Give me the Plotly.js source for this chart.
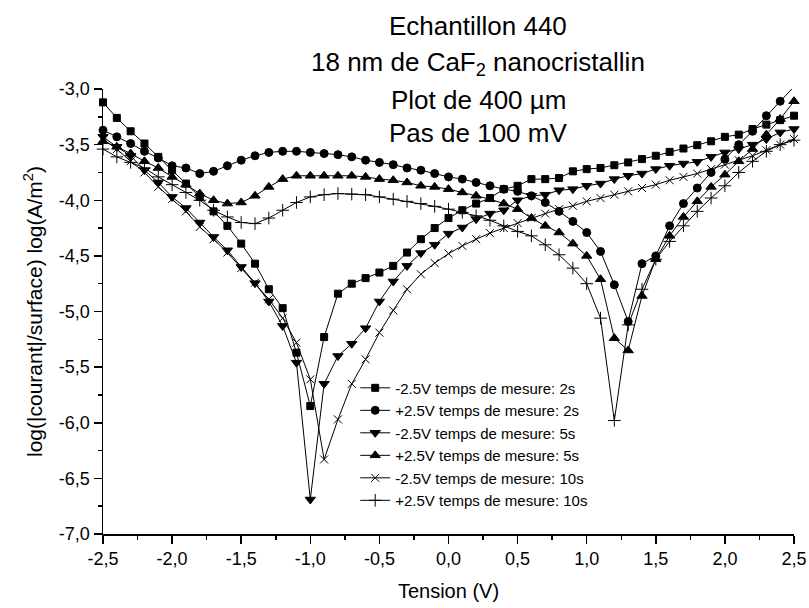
<!DOCTYPE html>
<html>
<head>
<meta charset="utf-8">
<script src="https://cdn.plot.ly/plotly-3.0.1.min.js"></script>
<style>html,body{margin:0;padding:0;background:#fff;}#chart{width:809px;height:608px;}</style>
</head>
<body>
<div id="chart"></div>
<script>
// Tension (V), pas de 100 mV
const tension = [-2.5,-2.4,-2.3,-2.2,-2.1,-2.0,-1.9,-1.8,-1.7,-1.6,-1.5,-1.4,-1.3,-1.2,-1.1,-1.0,-0.9,-0.8,-0.7,-0.6,-0.5,-0.4,-0.3,-0.2,-0.1,0.0,0.1,0.2,0.3,0.4,0.5,0.6,0.7,0.8,0.9,1.0,1.1,1.2,1.3,1.4,1.5,1.6,1.7,1.8,1.9,2.0,2.1,2.2,2.3,2.4,2.5];

const moins2s = [-3.12,-3.26,-3.38,-3.49,-3.61,-3.73,-3.85,-3.97,-4.10,-4.23,-4.39,-4.57,-4.80,-4.97,-5.37,-5.85,-5.23,-4.84,-4.75,-4.70,-4.65,-4.59,-4.47,-4.35,-4.25,-4.16,-4.09,-4.03,-3.98,-3.90,-3.87,-3.81,-3.81,-3.80,-3.74,-3.72,-3.71,-3.685,-3.66,-3.63,-3.60,-3.565,-3.535,-3.505,-3.47,-3.43,-3.41,-3.36,-3.32,-3.28,-3.24];

const plus2s = [-3.37,-3.43,-3.49,-3.56,-3.62,-3.69,-3.71,-3.76,-3.74,-3.69,-3.64,-3.60,-3.57,-3.56,-3.56,-3.57,-3.58,-3.59,-3.61,-3.64,-3.66,-3.68,-3.71,-3.73,-3.76,-3.79,-3.81,-3.84,-3.87,-3.90,-3.92,-3.96,-4.02,-4.10,-4.19,-4.29,-4.46,-4.76,-5.09,-4.57,-4.50,-4.23,-4.03,-3.89,-3.75,-3.63,-3.50,-3.38,-3.24,-3.11,-2.98];

const moins5s = [-3.43,-3.52,-3.60,-3.73,-3.84,-3.97,-4.07,-4.20,-4.33,-4.45,-4.60,-4.745,-4.91,-5.13,-5.46,-6.69,-5.65,-5.40,-5.29,-5.15,-4.91,-4.73,-4.59,-4.475,-4.40,-4.30,-4.245,-4.17,-4.12,-4.09,-4.00,-3.96,-3.95,-3.91,-3.90,-3.87,-3.85,-3.81,-3.78,-3.76,-3.72,-3.69,-3.67,-3.655,-3.61,-3.57,-3.54,-3.50,-3.45,-3.39,-3.36];

const plus5s = [-3.47,-3.52,-3.58,-3.65,-3.71,-3.79,-3.86,-3.94,-4.00,-4.03,-4.02,-3.96,-3.88,-3.81,-3.78,-3.78,-3.78,-3.78,-3.78,-3.79,-3.81,-3.82,-3.84,-3.87,-3.88,-3.90,-3.93,-3.96,-3.99,-4.03,-4.08,-4.16,-4.23,-4.29,-4.39,-4.50,-4.71,-5.24,-5.35,-4.86,-4.53,-4.32,-4.15,-4.01,-3.88,-3.77,-3.65,-3.54,-3.41,-3.27,-3.11];

const moins10s = [-3.45,-3.54,-3.65,-3.75,-3.88,-3.99,-4.10,-4.24,-4.35,-4.47,-4.61,-4.74,-4.89,-5.06,-5.28,-5.61,-6.33,-5.97,-5.65,-5.43,-5.19,-4.99,-4.80,-4.665,-4.565,-4.48,-4.41,-4.35,-4.295,-4.25,-4.205,-4.16,-4.12,-4.08,-4.05,-4.01,-3.98,-3.95,-3.92,-3.89,-3.86,-3.82,-3.79,-3.76,-3.72,-3.68,-3.64,-3.60,-3.55,-3.50,-3.45];

const plus10s = [-3.54,-3.61,-3.66,-3.71,-3.79,-3.86,-3.93,-4.00,-4.09,-4.15,-4.20,-4.21,-4.16,-4.09,-4.02,-3.97,-3.95,-3.94,-3.945,-3.95,-3.97,-3.99,-4.01,-4.03,-4.055,-4.08,-4.11,-4.14,-4.18,-4.23,-4.28,-4.32,-4.40,-4.49,-4.61,-4.75,-5.06,-5.98,-5.12,-4.80,-4.53,-4.37,-4.23,-4.10,-3.98,-3.87,-3.75,-3.65,-3.56,-3.50,-3.46];

const seriesNames = ["-2.5V temps de mesure: 2s","+2.5V temps de mesure: 2s","-2.5V temps de mesure: 5s","+2.5V temps de mesure: 5s","-2.5V temps de mesure: 10s","+2.5V temps de mesure: 10s"];

const xTickVals = [-2.5,-2.0,-1.5,-1.0,-0.5,0.0,0.5,1.0,1.5,2.0,2.5];
const xTickText = ["-2,5","-2,0","-1,5","-1,0","-0,5","0,0","0,5","1,0","1,5","2,0","2,5"];
const yTickVals = [-7.0,-6.5,-6.0,-5.5,-5.0,-4.5,-4.0,-3.5,-3.0];
const yTickText = ["-7,0","-6,5","-6,0","-5,5","-5,0","-4,5","-4,0","-3,5","-3,0"];
const xMinor = [-2.25,-1.75,-1.25,-0.75,-0.25,0.25,0.75,1.25,1.75,2.25];
const yMinor = [-6.75,-6.25,-5.75,-5.25,-4.75,-4.25,-3.75,-3.25];

const titleLines = ["Echantillon 440","18 nm de CaF<sub>2</sub> nanocristallin","Plot de 400 µm","Pas de 100 mV"];

const FONT = "Liberation Sans, Arial, sans-serif";
const allY = [moins2s, plus2s, moins5s, plus5s, moins10s, plus10s];
const symbols = ["square","circle","triangle-down","triangle-up","x-thin-open","cross-thin-open"];
const sizes = [7,8,9,9,8,9];

const traces = allY.map((y, i) => ({
  x: tension, y: y, name: seriesNames[i], type: "scatter", mode: "lines+markers",
  cliponaxis: false,
  line: {color: "black", width: 1},
  marker: {symbol: symbols[i], size: sizes[i], color: "black", line: {color: "black", width: 1}}
}));

const titleY = [1.1416, 1.0584, 0.9753, 0.9011];
const annotations = titleLines.map((t, i) => ({
  text: t, xref: "paper", yref: "paper", x: 0.5427, y: titleY[i],
  xanchor: "center", yanchor: "middle", showarrow: false,
  font: {family: FONT, size: 26, color: "black"}
}));

const axisCommon = {
  showline: true, linecolor: "black", linewidth: 1.5, mirror: false,
  showgrid: false, zeroline: false,
  ticks: "outside", ticklen: 8, tickwidth: 1.5, tickcolor: "black",
  tickmode: "array",
  tickfont: {family: FONT, size: 18, color: "black"}
};

const layout = {
  width: 809, height: 608,
  margin: {l: 103, r: 15, t: 89, b: 74},
  paper_bgcolor: "white", plot_bgcolor: "white",
  font: {family: FONT, color: "black"},
  showlegend: true,
  legend: {x: 0.365, y: 0.365, xanchor: "left", yanchor: "top", bgcolor: "rgba(0,0,0,0)",
           font: {family: FONT, size: 15, color: "black"}, tracegroupgap: 0, itemwidth: 30},
  xaxis: Object.assign({}, axisCommon, {
    range: [-2.5, 2.5], tickvals: xTickVals, ticktext: xTickText,
    minor: {tickvals: xMinor, ticks: "outside", ticklen: 4, tickwidth: 1.5, tickcolor: "black"},
    title: {text: "Tension (V)", font: {family: FONT, size: 20, color: "black"}, standoff: 16}
  }),
  yaxis: Object.assign({}, axisCommon, {
    range: [-7, -3], tickvals: yTickVals, ticktext: yTickText,
    minor: {tickvals: yMinor, ticks: "outside", ticklen: 4, tickwidth: 1.5, tickcolor: "black"},
    title: {text: "log(|courant|/surface) log(A/m<sup>2</sup>)", font: {family: FONT, size: 21, color: "black"}, standoff: 10}
  }),
  annotations: annotations
};

Plotly.newPlot("chart", traces, layout, {displayModeBar: false, staticPlot: true});
</script>
</body>
</html>
